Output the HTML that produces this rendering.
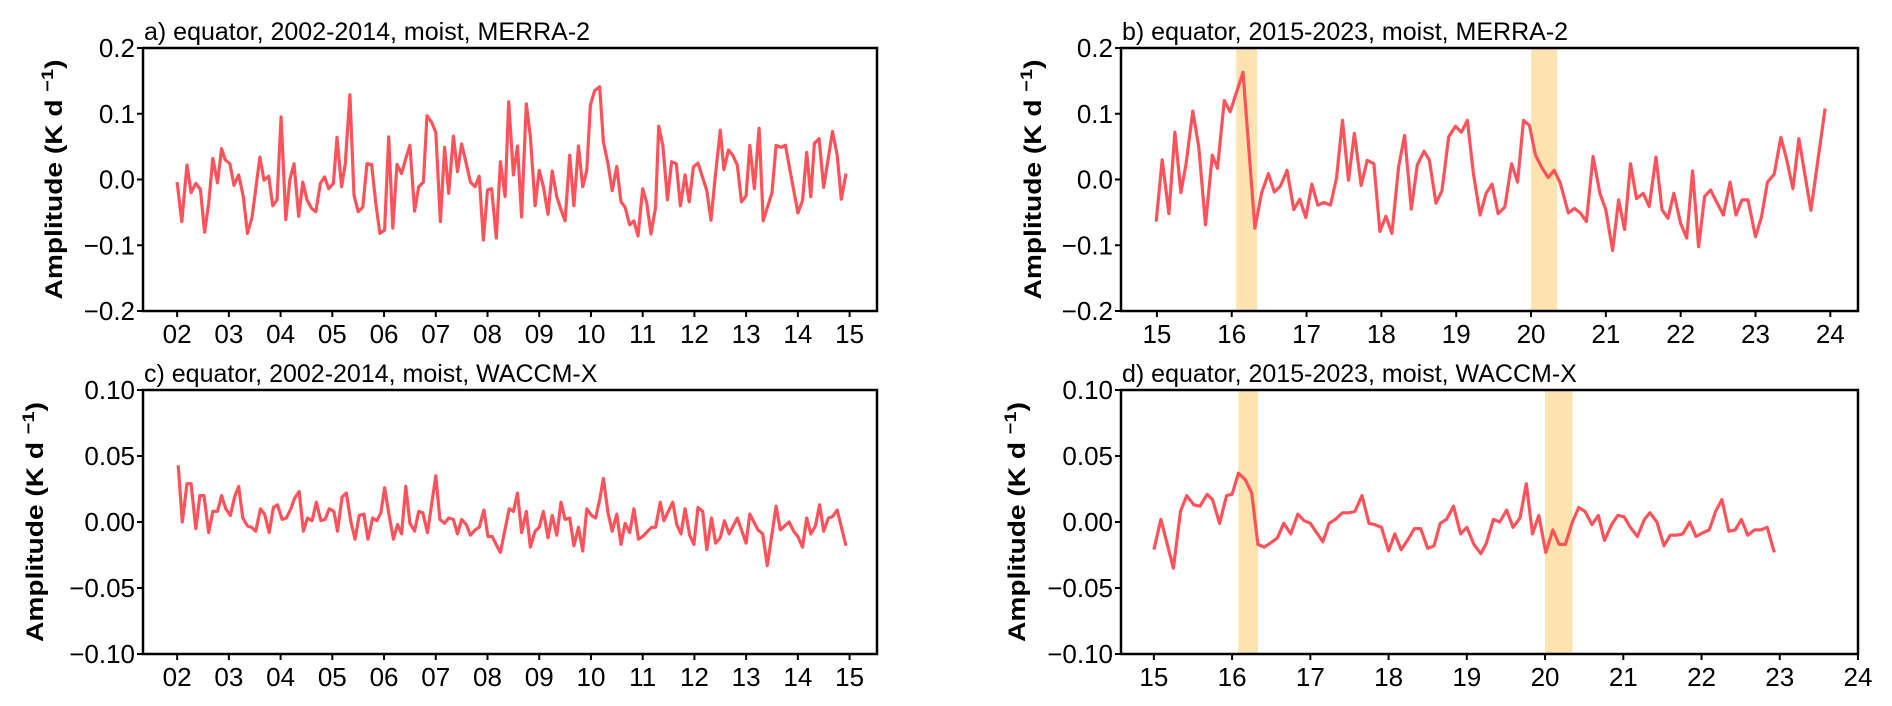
<!DOCTYPE html>
<html><head><meta charset="utf-8"><style>
html,body{margin:0;padding:0;background:#fff;}
svg{display:block;font-family:"Liberation Sans",Arial,sans-serif;}
</style></head><body>
<svg id="fig" width="1892" height="706" viewBox="0 0 1892 706" xmlns="http://www.w3.org/2000/svg"></svg>
<script>
const aYears=[2.0,2.09,2.19,2.27,2.36,2.45,2.53,2.61,2.69,2.78,2.86,2.93,3.02,3.10,3.19,3.28,3.36,3.45,3.60,3.68,3.77,3.85,3.93,4.01,4.10,4.18,4.26,4.35,4.43,4.51,4.60,4.68,4.77,4.85,4.93,5.02,5.09,5.18,5.25,5.34,5.42,5.50,5.59,5.67,5.76,5.84,5.92,6.01,6.09,6.17,6.25,6.34,6.42,6.50,6.59,6.67,6.76,6.83,6.92,7.00,7.09,7.17,7.25,7.34,7.42,7.50,7.59,7.67,7.76,7.84,7.92,8.00,8.08,8.17,8.25,8.34,8.41,8.50,8.58,8.66,8.75,8.83,8.92,9.00,9.08,9.17,9.25,9.34,9.42,9.50,9.59,9.67,9.76,9.84,9.92,9.99,10.07,10.17,10.24,10.33,10.41,10.50,10.58,10.66,10.75,10.83,10.91,11.0,11.08,11.16,11.25,11.31,11.39,11.48,11.56,11.65,11.73,11.82,11.90,11.98,12.07,12.15,12.24,12.32,12.40,12.50,12.57,12.66,12.74,12.83,12.91,13.0,13.07,13.16,13.25,13.33,13.50,13.58,13.67,13.76,14.0,14.09,14.17,14.25,14.32,14.41,14.50,14.67,14.76,14.84,14.93];
const aVals=[-0.004,-0.064,0.022,-0.02,-0.006,-0.015,-0.08,-0.036,0.032,-0.005,0.047,0.03,0.024,-0.009,0.007,-0.026,-0.082,-0.057,0.034,-0.001,0.005,-0.04,-0.031,0.095,-0.061,0.0,0.024,-0.056,-0.004,-0.031,-0.044,-0.049,-0.006,0.004,-0.014,-0.006,0.064,-0.011,0.024,0.129,-0.024,-0.049,-0.042,0.024,0.023,-0.036,-0.082,-0.077,0.065,-0.074,0.023,0.009,0.032,0.052,-0.048,-0.011,-0.004,0.097,0.087,0.072,-0.064,0.049,-0.021,0.066,0.012,0.054,0.024,-0.004,-0.011,0.005,-0.092,-0.016,-0.014,-0.089,0.027,-0.026,0.118,0.007,0.051,-0.057,0.115,0.065,-0.04,0.014,-0.011,-0.053,0.013,-0.026,-0.046,-0.063,0.037,-0.04,0.051,-0.011,0.014,0.113,0.135,0.141,0.057,0.024,-0.017,0.02,-0.034,-0.042,-0.069,-0.063,-0.086,-0.014,-0.036,-0.083,-0.042,0.081,0.051,-0.031,0.027,0.024,-0.04,0.007,-0.034,0.019,0.025,0.005,-0.017,-0.062,0.002,0.075,0.015,0.045,0.037,0.022,-0.034,-0.025,0.052,-0.014,0.078,-0.063,-0.02,0.052,0.049,0.052,-0.051,-0.032,0.041,-0.026,0.055,0.062,-0.012,0.073,0.037,-0.03,0.009];
const bYears=[14.99,15.07,15.16,15.24,15.32,15.39,15.48,15.56,15.65,15.74,15.81,15.90,15.98,16.15,16.31,16.40,16.49,16.57,16.65,16.74,16.83,16.91,16.99,17.07,17.15,17.23,17.32,17.40,17.48,17.56,17.64,17.73,17.81,17.90,17.98,18.06,18.14,18.23,18.31,18.40,18.48,18.57,18.64,18.73,18.81,18.90,18.99,19.07,19.15,19.23,19.32,19.40,19.48,19.56,19.65,19.74,19.82,19.90,19.98,20.06,20.15,20.23,20.31,20.39,20.50,20.58,20.66,20.74,20.83,20.92,21.0,21.09,21.17,21.25,21.33,21.41,21.50,21.58,21.67,21.75,21.83,21.91,22.0,22.08,22.16,22.24,22.32,22.40,22.48,22.57,22.66,22.74,22.82,22.90,23.00,23.08,23.16,23.25,23.34,23.42,23.50,23.58,23.74,23.93];
const bVals=[-0.064,0.030,-0.052,0.072,-0.020,0.024,0.104,0.049,-0.069,0.037,0.017,0.120,0.103,0.163,-0.074,-0.020,0.009,-0.019,-0.010,0.014,-0.046,-0.030,-0.058,-0.007,-0.039,-0.035,-0.039,0.002,0.090,-0.001,0.070,-0.009,0.029,0.024,-0.079,-0.056,-0.082,0.019,0.067,-0.045,0.022,0.043,0.030,-0.036,-0.017,0.065,0.081,0.072,0.090,0.009,-0.054,-0.021,-0.007,-0.052,-0.042,0.024,-0.004,0.090,0.082,0.037,0.017,0.003,0.014,-0.005,-0.051,-0.044,-0.051,-0.064,0.035,-0.021,-0.046,-0.108,-0.031,-0.076,0.024,-0.029,-0.021,-0.041,0.034,-0.046,-0.059,-0.021,-0.067,-0.089,0.013,-0.102,-0.026,-0.016,-0.034,-0.054,-0.004,-0.054,-0.031,-0.031,-0.087,-0.057,-0.004,0.008,0.064,0.029,-0.014,0.062,-0.047,0.108];
const cYears=[2.02,2.10,2.19,2.27,2.36,2.44,2.52,2.61,2.69,2.78,2.86,2.94,3.03,3.11,3.19,3.27,3.36,3.44,3.52,3.61,3.69,3.78,3.86,3.94,4.03,4.11,4.20,4.27,4.36,4.44,4.52,4.61,4.69,4.78,4.86,4.94,5.03,5.10,5.19,5.27,5.36,5.44,5.52,5.61,5.69,5.78,5.86,5.94,6.01,6.09,6.18,6.26,6.34,6.42,6.50,6.59,6.67,6.75,6.84,7.0,7.08,7.17,7.25,7.34,7.42,7.50,7.59,7.67,7.76,7.84,7.93,8.01,8.09,8.18,8.25,8.42,8.50,8.58,8.66,8.75,8.83,8.92,9.00,9.08,9.17,9.25,9.34,9.42,9.50,9.59,9.67,9.76,9.84,9.92,10.01,10.09,10.17,10.24,10.33,10.41,10.50,10.58,10.66,10.75,10.83,10.92,11.0,11.17,11.25,11.34,11.41,11.58,11.66,11.74,11.82,11.91,11.99,12.07,12.16,12.24,12.33,12.41,12.50,12.58,12.67,12.83,13.0,13.07,13.23,13.32,13.41,13.58,13.66,13.83,13.92,14.0,14.09,14.17,14.25,14.34,14.42,14.50,14.59,14.67,14.76,14.93];
const cVals=[0.043,0.0,0.029,0.029,-0.005,0.020,0.020,-0.008,0.008,0.008,0.020,0.010,0.005,0.019,0.027,0.003,-0.003,-0.004,-0.007,0.010,0.006,-0.008,0.011,0.013,0.002,0.003,0.010,0.018,0.023,-0.007,0.003,0.001,0.015,0.001,0.002,0.010,0.008,-0.007,0.019,0.022,0.0,-0.013,0.005,0.006,-0.013,0.003,0.001,0.007,0.026,0.007,-0.013,-0.002,-0.009,0.027,-0.001,-0.007,0.008,0.007,-0.008,0.035,0.002,-0.001,0.003,0.002,-0.009,0.002,-0.002,-0.010,-0.006,-0.004,0.009,-0.011,-0.011,-0.018,-0.023,0.010,0.008,0.022,-0.008,0.008,-0.019,-0.007,-0.004,0.008,-0.012,0.005,-0.010,0.015,0.002,0.003,-0.018,-0.004,-0.022,0.010,0.005,0.003,0.017,0.033,0.007,-0.007,0.006,-0.017,-0.001,-0.008,0.010,-0.013,-0.011,-0.004,-0.004,0.015,0.001,0.015,-0.002,-0.009,0.010,-0.010,-0.017,0.011,0.008,-0.021,0.003,-0.016,-0.012,0.001,-0.009,0.003,-0.016,0.006,-0.006,-0.009,-0.033,0.012,-0.006,0.0,-0.007,-0.011,-0.019,0.003,-0.009,-0.003,0.013,-0.007,0.003,0.004,0.009,-0.018];
const dYears=[15.0,15.09,15.25,15.34,15.42,15.51,15.59,15.68,15.75,15.84,15.93,16.0,16.08,16.17,16.25,16.33,16.41,16.49,16.58,16.66,16.75,16.84,16.92,17.0,17.08,17.16,17.24,17.32,17.41,17.49,17.57,17.66,17.75,17.82,17.91,18.0,18.08,18.16,18.24,18.33,18.41,18.50,18.58,18.66,18.74,18.83,18.92,19.0,19.09,19.18,19.25,19.34,19.42,19.51,19.59,19.68,19.76,19.84,19.92,20.01,20.10,20.18,20.26,20.35,20.43,20.51,20.60,20.68,20.76,20.85,20.93,21.01,21.09,21.18,21.27,21.34,21.43,21.52,21.60,21.68,21.76,21.85,21.93,22.02,22.10,22.18,22.26,22.35,22.43,22.51,22.59,22.68,22.76,22.84,22.93];
const dVals=[-0.021,0.002,-0.035,0.008,0.020,0.013,0.012,0.021,0.017,-0.001,0.020,0.021,0.037,0.032,0.022,-0.017,-0.019,-0.016,-0.012,-0.001,-0.009,0.006,0.001,-0.001,-0.008,-0.015,-0.001,0.002,0.007,0.007,0.008,0.020,-0.001,-0.002,-0.004,-0.022,-0.009,-0.021,-0.014,-0.005,-0.005,-0.020,-0.018,-0.001,0.002,0.012,-0.009,-0.004,-0.017,-0.024,-0.016,0.002,0.0,0.009,-0.004,0.003,0.029,-0.009,0.005,-0.023,-0.006,-0.017,-0.017,0.0,0.011,0.008,-0.002,0.005,-0.014,-0.002,0.005,0.004,-0.004,-0.011,0.002,0.007,0.0,-0.018,-0.010,-0.010,-0.009,0.0,-0.011,-0.008,-0.006,0.008,0.017,-0.007,-0.006,0.002,-0.010,-0.006,-0.006,-0.004,-0.023];
const xTicksA=[2,3,4,5,6,7,8,9,10,11,12,13,14,15];
const xTickLabelsA=["02","03","04","05","06","07","08","09","10","11","12","13","14","15"];
const xTicksB=[15,16,17,18,19,20,21,22,23,24];
const xTickLabelsB=["15","16","17","18","19","20","21","22","23","24"];
const yTicksTop=[-0.2,-0.1,0,0.1,0.2];
const yTickLabelsTop=["\u22120.2","\u22120.1","0.0","0.1","0.2"];
const yTicksBot=[-0.1,-0.05,0,0.05,0.1];
const yTickLabelsBot=["\u22120.10","\u22120.05","0.00","0.05","0.10"];
const bandStartsB=[16.06,20.0];
const bandEndsB=[16.34,20.35];
const bandStartsD=[16.08,20.0];
const bandEndsD=[16.33,20.35];

const NS="http://www.w3.org/2000/svg";
const fig=document.getElementById('fig');
function mk(tag,attrs,parent){const e=document.createElementNS(NS,tag);for(const k in attrs)e.setAttribute(k,attrs[k]);(parent||fig).appendChild(e);return e;}

function panel(cfg){
  const g=mk('g',{});
  
  
  const sx=v=>cfg.L+(v-cfg.x0)/(cfg.x1-cfg.x0)*(cfg.R-cfg.L);
  const sy=v=>cfg.B-(v-cfg.y0)/(cfg.y1-cfg.y0)*(cfg.B-cfg.T);
  if(cfg.bs){for(let i=0;i<cfg.bs.length;i++){
    const r=mk('rect',{x:sx(cfg.bs[i]),y:cfg.T,width:sx(cfg.be[i])-sx(cfg.bs[i]),height:cfg.B-cfg.T,fill:'#fde3b0'},g);
    
    
  }}
  let d='';
  for(let i=0;i<cfg.xs.length;i++){d+=(i?'L':'M')+sx(cfg.xs[i]).toFixed(1)+','+sy(cfg.ys[i]).toFixed(1);}
  const p=mk('path',{d:d,fill:'none',stroke:'#ff525a','stroke-width':3.2,'stroke-linejoin':'round'},g);
  
  
  const fr=mk('rect',{x:cfg.L,y:cfg.T,width:cfg.R-cfg.L,height:cfg.B-cfg.T,fill:'none',stroke:'#000','stroke-width':2.5},g);
  
  
  for(let i=0;i<cfg.xt.length;i++){
    const x=sx(cfg.xt[i]);
    mk('line',{x1:x,x2:x,y1:cfg.B,y2:cfg.B+6,stroke:'#000','stroke-width':2},g);
    const t=mk('text',{x:x,y:cfg.B+32,'font-size':26,'text-anchor':'middle',fill:'#000'},g);
    t.textContent=cfg.xl[i];
    
    
  }
  for(let i=0;i<cfg.yt.length;i++){
    const y=sy(cfg.yt[i]);
    mk('line',{x1:cfg.L-6,x2:cfg.L,y1:y,y2:y,stroke:'#000','stroke-width':2},g);
    const t=mk('text',{x:cfg.L-8,y:y+9,'font-size':26,'text-anchor':'end',fill:'#000'},g);
    t.textContent=cfg.yl[i];
    
    
  }
  const ttl=mk('text',{x:cfg.L+1,y:cfg.T-8,'font-size':25,fill:'#000'},g);
  ttl.textContent=cfg.title;
  
  
  const cy=(cfg.T+cfg.B)/2;
  const yl=mk('text',{x:cfg.ylx,y:cy,'font-size':24,'font-weight':'bold','text-anchor':'middle',transform:'rotate(-90 '+cfg.ylx+' '+cy+')',fill:'#000',textLength:240,lengthAdjust:'spacingAndGlyphs'},g);
  yl.innerHTML='Amplitude (K d <tspan dy="-9" font-size="17">\u22121</tspan><tspan dy="9">)</tspan>';
  
  
}

panel({name:'panel-a',L:143,R:877,T:48,B:311,x0:1.34,x1:15.53,y0:-0.2,y1:0.2,xs:aYears,ys:aVals,xt:xTicksA,xl:xTickLabelsA,yt:yTicksTop,yl:yTickLabelsTop,title:'a) equator, 2002-2014, moist, MERRA-2',ylx:62});
panel({name:'panel-b',L:1121,R:1858,T:48,B:311,x0:14.52,x1:24.37,y0:-0.2,y1:0.2,xs:bYears,ys:bVals,xt:xTicksB,xl:xTickLabelsB,yt:yTicksTop,yl:yTickLabelsTop,title:'b) equator, 2015-2023, moist, MERRA-2',bs:bandStartsB,be:bandEndsB,ylx:1041});
panel({name:'panel-c',L:143,R:877,T:390,B:654,x0:1.34,x1:15.53,y0:-0.1,y1:0.1,xs:cYears,ys:cVals,xt:xTicksA,xl:xTickLabelsA,yt:yTicksBot,yl:yTickLabelsBot,title:'c) equator, 2002-2014, moist, WACCM-X',ylx:43});
panel({name:'panel-d',L:1121,R:1858,T:390,B:654,x0:14.58,x1:24.0,y0:-0.1,y1:0.1,xs:dYears,ys:dVals,xt:xTicksB,xl:xTickLabelsB,yt:yTicksBot,yl:yTickLabelsBot,title:'d) equator, 2015-2023, moist, WACCM-X',bs:bandStartsD,be:bandEndsD,ylx:1025});
</script>
</body></html>
